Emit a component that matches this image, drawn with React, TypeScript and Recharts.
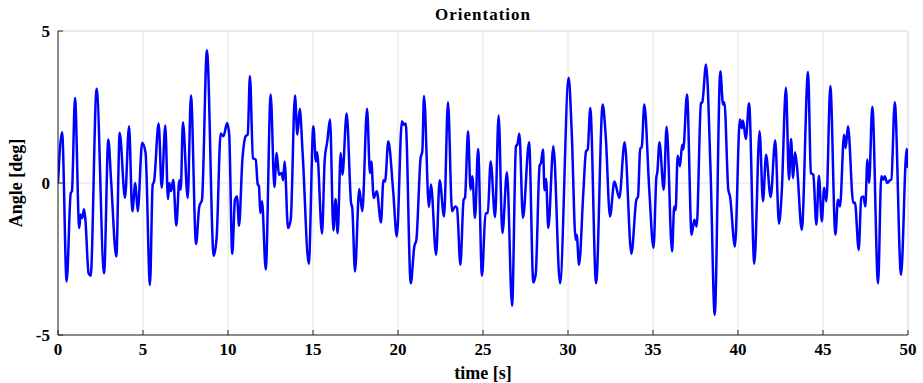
import { LineChart, Line, XAxis, YAxis, CartesianGrid, ReferenceLine } from "recharts";

const AXIS = "#262626";
const GRID = "#e3e3e3";
const BLUE = "#0000ff";
const FONT = "'Liberation Serif', 'Times New Roman', serif";

// time [s]
const TIME = [
  0, 0.24, 0.51, 0.75, 0.82, 1.0, 1.25, 1.33, 1.43, 1.53, 1.61, 1.8, 1.92, 2.27, 2.71, 2.96, 3.12, 3.43, 3.63, 3.94,
  4.18, 4.37, 4.55, 4.69, 4.95, 5.15, 5.41, 5.57, 5.65, 5.92, 6.1, 6.31, 6.47, 6.55, 6.65, 6.78, 6.96, 7.14, 7.22, 7.35,
  7.63, 7.82, 8.12, 8.31, 8.47, 8.76, 9.16, 9.33, 9.57, 9.73, 9.95, 10.07, 10.25, 10.41, 10.53, 10.65, 10.84, 11.04, 11.16, 11.29,
  11.47, 11.63, 11.75, 11.82, 11.9, 12.0, 12.22, 12.51, 12.73, 12.86, 13.0, 13.16, 13.24, 13.33, 13.53, 13.69, 13.94, 14.08, 14.22, 14.39,
  14.75, 15.02, 15.17, 15.24, 15.53, 15.69, 15.84, 16.0, 16.2, 16.33, 16.45, 16.63, 16.73, 16.98, 17.24, 17.31, 17.47, 17.72, 17.9, 18.18,
  18.35, 18.43, 18.57, 18.75, 19.0, 19.14, 19.24, 19.43, 19.71, 19.93, 20.23, 20.33, 20.45, 20.75, 20.96, 21.08, 21.33, 21.43, 21.53, 21.82,
  21.94, 22.24, 22.45, 22.71, 22.94, 23.18, 23.37, 23.47, 23.67, 23.86, 23.94, 24.12, 24.27, 24.37, 24.53, 24.71, 24.94, 25.15, 25.28, 25.45,
  25.71, 25.92, 26.14, 26.41, 26.71, 26.94, 27.02, 27.14, 27.35, 27.71, 27.96, 28.1, 28.33, 28.41, 28.53, 28.62, 28.71, 28.84, 29.14, 29.53,
  30.04, 30.22, 30.45, 30.51, 30.65, 30.9, 31.06, 31.16, 31.31, 31.65, 32.04, 32.22, 32.47, 32.73, 33.02, 33.33, 33.73, 34.02, 34.12, 34.25,
  34.33, 34.49, 34.78, 35.03, 35.2, 35.25, 35.38, 35.63, 35.8, 36.12, 36.25, 36.33, 36.45, 36.59, 36.71, 36.78, 37.0, 37.27, 37.43, 37.57,
  37.82, 37.9, 38.12, 38.39, 38.63, 38.96, 39.12, 39.2, 39.43, 39.53, 39.82, 40.11, 40.22, 40.29, 40.46, 40.65, 40.96, 41.27, 41.47, 41.65,
  41.92, 42.19, 42.41, 42.57, 42.82, 43.0, 43.12, 43.24, 43.35, 43.47, 43.75, 44.12, 44.29, 44.43, 44.61, 44.76, 44.93, 45.07, 45.2, 45.43,
  45.73, 45.88, 46.0, 46.24, 46.33, 46.47, 46.78, 46.88, 47.1, 47.25, 47.37, 47.49, 47.61, 47.71, 47.9, 48.24, 48.43, 48.55, 48.63, 48.78,
  48.94, 49.02, 49.22, 49.59, 49.92, 50.0,
];

// Angle [deg]
const ANGLE = [
  0, 1.67, -3.24, -0.33, -0.27, 2.8, -1.48, -1.04, -1.15, -0.86, -1.2, -2.97, -3.05, 3.1, -2.97, 1.43, 0.11, -2.42, 1.65, -0.49,
  1.87, -0.93, 0, -0.93, 1.32, 0.99, -3.35, -0.05, 0.05, 1.96, -0.16, 1.89, -0.53, 0, -0.27, 0.11, -1.4, 0.09, -0.22, 2.0,
  -0.49, 2.88, -2.01, -0.77, -0.55, 4.37, -2.4, -1.81, 1.63, 1.54, 1.97, 1.6, -2.33, -0.55, -0.44, -1.41, 0.71, 1.54, 1.59, 3.52,
  0.82, 0.77, -0.05, -0.1, -0.99, -0.6, -2.84, 2.91, -0.13, 0.99, 0.27, 0.33, 0.09, 0.71, -1.48, -1.21, 2.88, 1.59, 2.44, 0.99,
  -2.66, 1.87, 0.71, 1.01, -1.67, 0.77, 1.37, 2.09, -1.56, -0.53, -1.65, 0.99, 0.27, 2.29, -0.66, -0.82, -2.91, -0.2, -0.93, 2.44,
  0.33, 0.71, -0.49, -0.27, -1.3, 0.09, 0.05, 1.37, -0.22, -1.76, 2.03, 1.92, 1.96, -3.3, -2.09, -1.87, 0.82, 1.04, 2.86, -0.79,
  -0.05, -2.36, 0.09, -1.1, 2.66, -0.93, -0.77, -0.82, -2.69, -0.55, -0.49, 1.7, -0.22, 0.22, -1.15, 1.12, -3.05, -1.0, -0.99, 0.71,
  -1.12, 2.22, -1.65, 0.35, -4.04, 1.21, 1.26, 1.63, -1.15, 1.34, -3.27, -3.0, 0.57, 0.66, 1.1, -0.24, 0.13, -1.48, 1.21, -3.3,
  3.46, 1.65, -1.87, -1.7, -2.69, -0.33, 1.04, 1.1, 2.47, -3.3, 2.58, 1.54, -1.1, 0.05, -0.49, 1.34, -2.33, -0.55, -0.44, 1.15,
  1.15, 2.58, -0.22, -2.14, 0.2, 0.33, 1.34, -0.22, 1.85, -2.25, -0.77, -0.9, 0.9, 0.55, 1.26, 1.1, 2.91, -1.7, -1.21, -1.43,
  2.62, 2.66, 3.9, 0.33, -4.34, 3.68, 2.58, 2.66, -0.22, -0.44, -2.09, 2.09, 1.8, 2.06, 1.45, 2.62, -2.66, 1.7, -0.6, 0.93,
  -0.46, 1.41, -1.34, -0.33, 3.13, 0.11, 1.45, 0.16, 1.01, 0.55, -1.54, 3.65, 0.33, 0.27, -1.37, 0.24, -1.26, -0.16, -0.6, 3.19,
  -1.7, -0.55, -0.77, 1.59, 1.15, 1.87, -0.66, -0.64, -2.2, -0.49, -0.44, -0.77, 0.77, 0, 2.51, -3.3, 0.22, 0.11, 0.22, 0,
  0.09, 0.11, 2.66, -3.02, 1.12, 0.49,
];

const X_TICKS = [0, 5, 10, 15, 20, 25, 30, 35, 40, 45, 50];
const Y_TICKS = [-5, 0, 5];

const data = TIME.map((t, i) => ({ t, angle: ANGLE[i] }));

const tickStyle = { fill: "#000", fontSize: 17, fontWeight: "bold", fontFamily: FONT };
const labelStyle = { ...tickStyle, fontSize: 18 };

export default function App() {
  return (
    <div style={{ position: "absolute", left: 0, top: 0, width: 923, height: 383, background: "#fff" }}>
      <div
        style={{
          position: "absolute",
          left: 383,
          width: 200,
          top: 5,
          textAlign: "center",
          fontFamily: FONT,
          fontWeight: "bold",
          fontSize: 17,
          letterSpacing: 1,
          color: "#000",
        }}
      >
        Orientation
      </div>
      <LineChart width={923} height={383} data={data} margin={{ top: 31, right: 15, left: 0, bottom: 0 }}>
        <CartesianGrid stroke={GRID} horizontalValues={Y_TICKS} verticalValues={X_TICKS} />
        <ReferenceLine y={5} stroke={GRID} />
        <ReferenceLine x={50} stroke={GRID} />
        <XAxis
          type="number"
          dataKey="t"
          domain={[0, 50]}
          ticks={X_TICKS}
          interval={0}
          allowDataOverflow
          stroke={AXIS}
          tickSize={-5}
          tickMargin={13}
          tick={tickStyle}
          height={48}
          label={{ value: "time [s]", position: "insideBottom", offset: 4, style: labelStyle }}
        />
        <YAxis
          type="number"
          domain={[-5, 5]}
          ticks={Y_TICKS}
          interval={0}
          allowDataOverflow
          stroke={AXIS}
          tickSize={-5}
          tickMargin={13}
          tick={tickStyle}
          width={58}
          label={{ value: "Angle [deg]", angle: -90, position: "insideLeft", offset: 16, style: { ...labelStyle, textAnchor: "middle" } }}
        />
        <Line
          type="monotone"
          dataKey="angle"
          stroke={BLUE}
          strokeWidth={2.5}
          dot={false}
          activeDot={false}
          isAnimationActive={false}
        />
      </LineChart>
    </div>
  );
}
